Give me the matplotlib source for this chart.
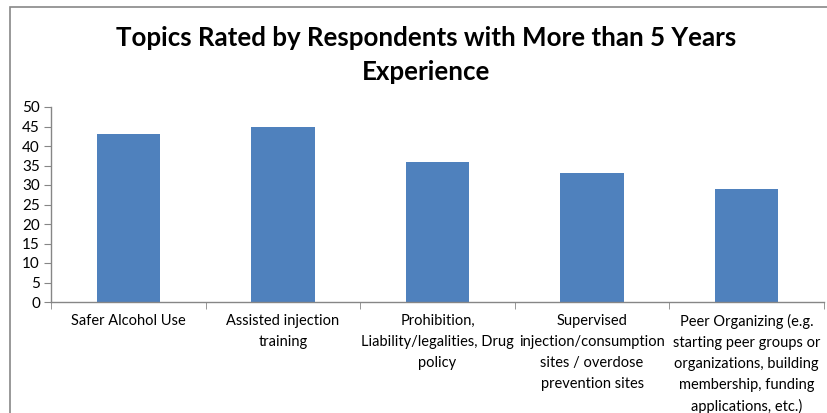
import matplotlib
matplotlib.use("Agg")
import matplotlib.pyplot as plt
from matplotlib.patches import Rectangle

categories = [
    "Safer Alcohol Use",
    "Assisted injection\ntraining",
    "Prohibition,\nLiability/legalities, Drug\npolicy",
    "Supervised\ninjection/consumption\nsites / overdose\nprevention sites",
    "Peer Organizing (e.g.\nstarting peer groups or\norganizations, building\nmembership, funding\napplications, etc.)",
]
values = [43, 45, 36, 33, 29]
yticks = list(range(0, 55, 5))
title = "Topics Rated by Respondents with More than 5 Years\nExperience"

plt.rcParams['font.family'] = ['Lato', 'DejaVu Sans']

W, H = 827, 413
fig = plt.figure(figsize=(W / 100, H / 100), dpi=100)
fig.patch.set_facecolor("white")

# chart-area border (extends beyond the crop on right/bottom)
fig.patches.append(Rectangle((10 / W, -0.1), 1.2, 1 - 7 / H + 0.1, transform=fig.transFigure,
                             fill=False, edgecolor="#888888", linewidth=1.2))

ax = fig.add_axes([51 / W, 1 - 302 / H, (824 - 51) / W, (302 - 107) / H])
x = list(range(len(categories)))
ax.bar(x, values, width=0.41, color="#4F81BD", zorder=2)
ax.set_xlim(-0.5, len(categories) - 0.5)
ax.set_ylim(0, 50)
ax.set_yticks(yticks)
ax.set_yticklabels([str(v) for v in yticks], fontsize=11)
ax.set_xticks(x)
ax.set_xticklabels(categories, fontsize=10.5, linespacing=1.63, va="top")
ax.tick_params(axis="x", length=0, pad=8.5)
ax.set_xticks([i + 0.5 for i in range(-1, len(categories))], minor=True)
ax.tick_params(axis="x", which="minor", length=5, color="#868686", direction="out")
ax.tick_params(axis="y", length=5, color="#868686", direction="out", pad=3)
for s in ["top", "right"]:
    ax.spines[s].set_visible(False)
for s in ["left", "bottom"]:
    ax.spines[s].set_color("#868686")
    ax.spines[s].set_linewidth(1)

fig.text(426 / W, 1 - 55 / H, title, ha="center", va="center", fontsize=18.6, fontweight="bold",
         linespacing=1.45)

fig.savefig("out.png", dpi=100)
